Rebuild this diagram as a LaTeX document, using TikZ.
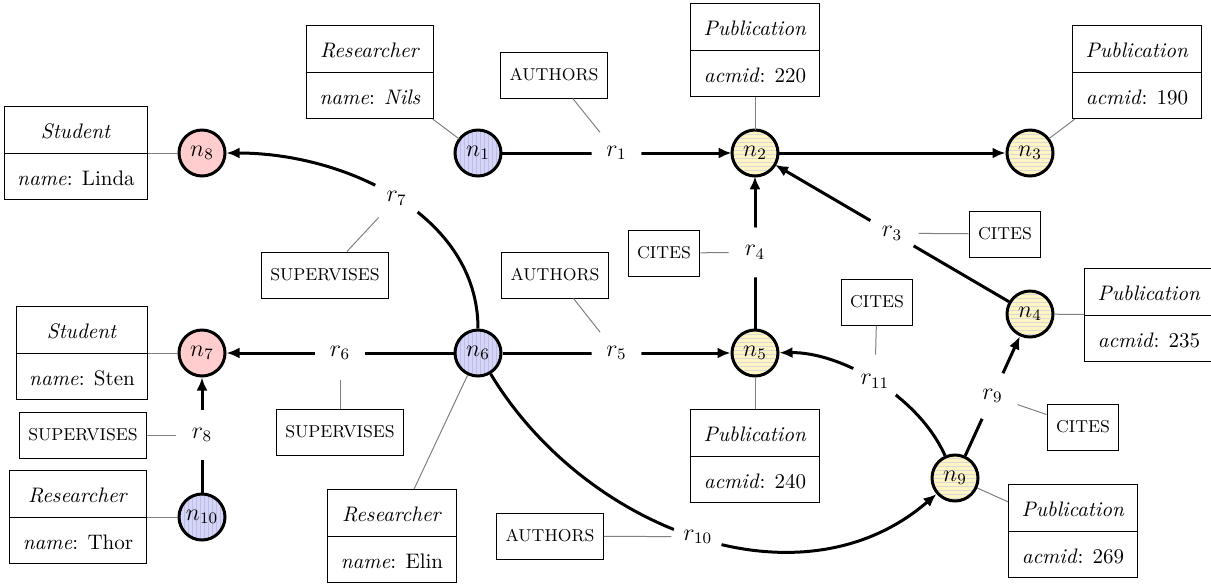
\documentclass[tikz,border=0pt]{standalone}
\usetikzlibrary{arrows.meta,patterns.meta}
\definecolor{rblue}{RGB}{212,212,252}
\definecolor{rpink}{RGB}{255,205,205}
\definecolor{ryel}{RGB}{255,245,195}
\newcommand{\fsz}{\fontsize{10.5}{12.6}\selectfont}
\newcommand{\msz}{\fontsize{12}{14}\selectfont}
\newcommand{\twobox}[2]{\renewcommand{\arraystretch}{1.83}\setlength{\tabcolsep}{6.5pt}\begin{tabular}{c}#1\\\hline #2\end{tabular}}
\tikzset{
  gnode/.style={circle, draw, line width=1.5pt, minimum size=23pt, inner sep=0pt, font=\msz},
  bluenode/.style={gnode, preaction={fill=rblue}, pattern={Lines[angle=90,distance=2pt,line width=0.35pt]}, pattern color=blue!25!gray!40},
  yelnode/.style={gnode, preaction={fill=ryel}, pattern={Lines[angle=0,distance=2pt,line width=0.35pt]}, pattern color=gray!30},
  pinknode/.style={gnode, fill=rpink},
  infobox/.style={draw, line width=0.5pt, inner sep=0pt, font=\fsz},
  lbox/.style={draw, line width=0.5pt, minimum height=23pt, inner xsep=4.5pt, font=\fontsize{8.6}{10}\selectfont},
  elab/.style={circle, fill=white, inner sep=0pt, minimum size=25pt, font=\msz},
  edge/.style={line width=1.5pt, -{Latex[length=6.5pt,width=5.5pt]}},
  aux/.style={gray, line width=0.5pt}
}
\begin{document}
\begin{tikzpicture}[x=0.5pt,y=-0.5pt]
\useasboundingbox (0,0) rectangle (1211,586);
% graph nodes
\node[bluenode] (n1) at (478,153) {$n_1$};
\node[yelnode] (n2) at (755,153) {$n_2$};
\node[yelnode] (n3) at (1030,153) {$n_3$};
\node[yelnode] (n4) at (1030,314) {$n_4$};
\node[yelnode] (n5) at (755,353) {$n_5$};
\node[bluenode] (n6) at (478,353) {$n_6$};
\node[pinknode] (n7) at (202,353) {$n_7$};
\node[pinknode] (n8) at (202,153) {$n_8$};
\node[yelnode] (n9) at (955,478) {$n_9$};
\node[bluenode] (n10) at (202,517) {$n_{10}$};
% property boxes
\node[infobox] (pn1) at (370,72) {\twobox{\textit{Researcher}}{\textit{name}: \textit{Nils}}};
\node[infobox] (pn2) at (755,50) {\twobox{\textit{Publication}}{\textit{acmid}: 220}};
\node[infobox] (pn3) at (1137,72) {\twobox{\textit{Publication}}{\textit{acmid}: 190}};
\node[infobox] (pn8) at (76,153) {\twobox{\textit{Student}}{\textit{name}: Linda}};
\node[infobox] (pn7) at (82,353) {\twobox{\textit{Student}}{\textit{name}: Sten}};
\node[infobox] (pn10) at (78,517) {\twobox{\textit{Researcher}}{\textit{name}: Thor}};
\node[infobox] (pn6) at (392,536) {\twobox{\textit{Researcher}}{\textit{name}: Elin}};
\node[infobox] (pn5) at (755,456) {\twobox{\textit{Publication}}{\textit{acmid}: 240}};
\node[infobox] (pn4) at (1149,315) {\twobox{\textit{Publication}}{\textit{acmid}: 235}};
\node[infobox] (pn9) at (1073,531) {\twobox{\textit{Publication}}{\textit{acmid}: 269}};
% relationship type boxes
\node[lbox] (t1) at (554,75) {AUTHORS};
\node[lbox] (t3) at (1005,234) {CITES};
\node[lbox] (t4) at (664,253) {CITES};
\node[lbox] (t5) at (555,275) {AUTHORS};
\node[lbox] (t7) at (325,275) {SUPERVISES};
\node[lbox] (t6) at (340,432) {SUPERVISES};
\node[lbox] (t8) at (83,435) {SUPERVISES};
\node[lbox] (t11) at (877,302) {CITES};
\node[lbox] (t9) at (1083,427) {CITES};
\node[lbox] (t10) at (550,536) {AUTHORS};
% edges
\draw[edge] (n1) -- node[elab] (r1) {$r_1$} (n2);
\draw[edge] (n2) -- (n3);
\draw[edge] (n4) -- node[elab] (r3) {$r_3$} (n2);
\draw[edge] (n5) -- node[elab] (r4) {$r_4$} (n2);
\draw[edge] (n6) -- node[elab] (r5) {$r_5$} (n5);
\draw[edge] (n6) -- node[elab] (r6) {$r_6$} (n7);
\draw[edge] (n6) .. controls (478,215) and (345,153) .. node[elab,midway] (r7) {$r_7$} (n8);
\draw[edge] (n10) -- node[elab] (r8) {$r_8$} (n7);
\draw[edge] (n9) -- node[elab] (r9) {$r_9$} (n4);
\draw[edge] (n6) .. controls (585,530) and (800,612) .. node[elab,midway] (r10) {$r_{10}$} (n9);
\draw[edge] (n9) .. controls (918,395) and (840,352) .. node[elab,midway] (r11) {$r_{11}$} (n5);
% gray links
\foreach \a/\b in {pn1/n1,pn2/n2,pn3/n3,pn4/n4,pn5/n5,pn6/n6,pn7/n7,pn8/n8,pn9/n9,pn10/n10,
  t1/r1,t3/r3,t4/r4,t5/r5,t6/r6,t7/r7,t8/r8,t9/r9,t10/r10,t11/r11}
  \draw[aux] (\a) -- (\b);
\end{tikzpicture}
\end{document}
